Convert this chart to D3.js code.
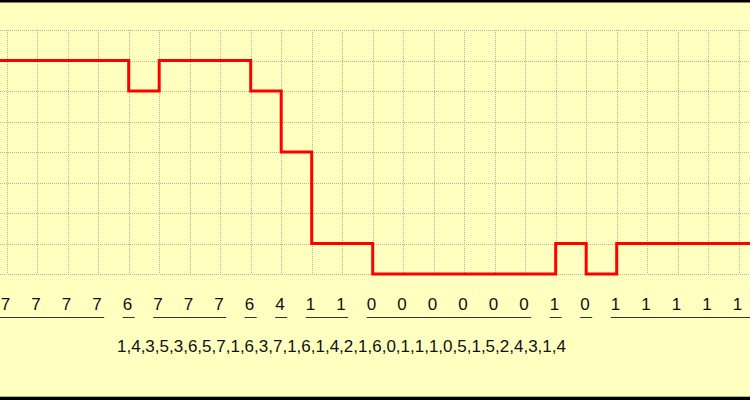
<!DOCTYPE html>
<html>
<head>
    <meta charset="utf-8" />
    <title>Step signal</title>
    <script src="https://d3js.org/d3.v7.min.js"></script>
    <style>
        body { margin: 0; background: #ffffc0; }
        svg { display: block; }
    </style>
</head>
<body>
    <div id="chart"></div>
    <script>
        // levels shown per time slot
        let levels = [7, 7, 7, 7, 6, 7, 7, 7, 6, 4, 1, 1, 0, 0, 0, 0, 0, 0, 1, 0, 1, 1, 1, 1, 1];
        let sequence = [1, 4, 3, 5, 3, 6, 5, 7, 1, 6, 3, 7, 1, 6, 1, 4, 2, 1, 6, 0, 1, 1, 1, 0, 5, 1, 5, 2, 4, 3, 1, 4];
        let gridLevels = [0, 1, 2, 3, 4, 5, 6, 7, 8];

        let width = 750, height = 400;

        let svg = d3.select("#chart").append("svg")
            .attr("width", width)
            .attr("height", height);

        svg.append("rect")
            .attr("width", width).attr("height", height)
            .attr("fill", "#ffffc0");

        let x = d3.scaleLinear().domain([0, levels.length - 1]).range([6.7, 738.7]);
        let y = d3.scaleLinear().domain([0, 8]).range([274, 30]);

        // grid
        let grid = svg.append("g")
            .attr("stroke", "#b8b596")
            .attr("stroke-width", 1)
            .attr("stroke-dasharray", "1,1");

        grid.selectAll(".h").data(gridLevels).enter().append("line")
            .attr("x1", 0).attr("x2", width)
            .attr("y1", d => Math.round(y(d)) + 0.5)
            .attr("y2", d => Math.round(y(d)) + 0.5);

        grid.selectAll(".v").data(d3.range(levels.length)).enter().append("line")
            .attr("y1", y(8)).attr("y2", y(0))
            .attr("x1", d => Math.round(x(d)) + 0.5)
            .attr("x2", d => Math.round(x(d)) + 0.5);

        // the signal continues past both edges of the view
        let pts = [{ k: -1, v: levels[0] }]
            .concat(levels.map((v, k) => ({ k: k, v: v })))
            .concat([{ k: levels.length, v: levels[levels.length - 1] }]);

        let line = d3.line()
            .x(d => x(d.k))
            .y(d => y(d.v))
            .curve(d3.curveStepAfter);

        svg.append("path")
            .datum(pts)
            .attr("d", line)
            .attr("fill", "none")
            .attr("stroke", "#ff0000")
            .attr("stroke-width", 3);

        // level labels
        svg.selectAll(".lvl").data(levels).enter().append("text")
            .attr("x", (d, i) => x(i) - 1.3)
            .attr("y", 310)
            .attr("text-anchor", "middle")
            .attr("font-family", "Liberation Sans, Arial, sans-serif")
            .attr("font-size", 17)
            .attr("fill", "#111")
            .text(d => d);

        // underline runs of equal levels
        let runs = [];
        levels.forEach((v, i) => {
            if (i > 0 && levels[i - 1] === v) runs[runs.length - 1].end = i;
            else runs.push({ start: i, end: i });
        });

        svg.selectAll(".run").data(runs).enter().append("line")
            .attr("x1", d => d.start === 0 ? 0 : x(d.start) - 6)
            .attr("x2", d => d.end === levels.length - 1 ? width : x(d.end) + 6)
            .attr("y1", 317.5).attr("y2", 317.5)
            .attr("stroke", "#333")
            .attr("stroke-width", 1);

        // symbol sequence
        svg.append("text")
            .attr("x", 117)
            .attr("y", 352)
            .attr("font-family", "Liberation Sans, Arial, sans-serif")
            .attr("font-size", 17)
            .attr("fill", "#111")
            .text(sequence.join(","));

        // top and bottom border bands
        svg.append("rect").attr("x", 0).attr("y", 0).attr("width", width).attr("height", 2.5).attr("fill", "#000");
        svg.append("rect").attr("x", 0).attr("y", 396.7).attr("width", width).attr("height", 3.3).attr("fill", "#000");
    </script>
</body>
</html>
